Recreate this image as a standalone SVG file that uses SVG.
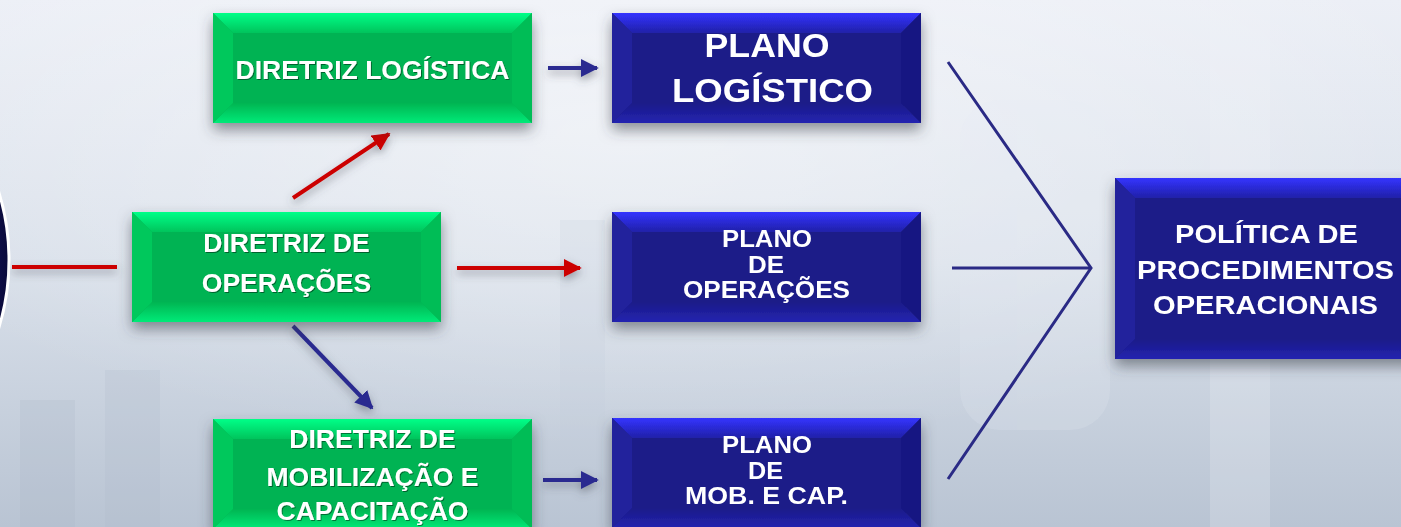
<svg xmlns="http://www.w3.org/2000/svg" width="1401" height="527" viewBox="0 0 1401 527">
<defs>
<linearGradient id="bg" x1="0" y1="0" x2="0" y2="1">
<stop offset="0" stop-color="#eceff6"/>
<stop offset="0.5" stop-color="#d9e0ea"/>
<stop offset="1" stop-color="#b9c4d3"/>
</linearGradient>
<radialGradient id="glow" cx="0.45" cy="0.25" r="0.6">
<stop offset="0" stop-color="#ffffff" stop-opacity="0.45"/>
<stop offset="1" stop-color="#ffffff" stop-opacity="0"/>
</radialGradient>
<radialGradient id="orb" cx="0.5" cy="0.5" r="0.5">
<stop offset="0.8" stop-color="#1a1a70"/>
<stop offset="1" stop-color="#0a0a3a"/>
</radialGradient>
<linearGradient id="gTop" x1="0" y1="0" x2="0" y2="1">
<stop offset="0" stop-color="#00ff88"/>
<stop offset="1" stop-color="#00c45c"/>
</linearGradient>
<linearGradient id="gBot" x1="0" y1="0" x2="0" y2="1">
<stop offset="0" stop-color="#00b552"/>
<stop offset="1" stop-color="#00ea78"/>
</linearGradient>
<linearGradient id="bTop" x1="0" y1="0" x2="0" y2="1">
<stop offset="0" stop-color="#3434ff"/>
<stop offset="1" stop-color="#2020a8"/>
</linearGradient>
<linearGradient id="bBot" x1="0" y1="0" x2="0" y2="1">
<stop offset="0" stop-color="#1a1a88"/>
<stop offset="1" stop-color="#2424b0"/>
</linearGradient>
<filter id="shadow" x="-20%" y="-30%" width="140%" height="170%">
<feDropShadow dx="0" dy="7" stdDeviation="7" flood-color="#3a3f4a" flood-opacity="0.55"/>
</filter>
<filter id="lshadow" x="-20%" y="-100%" width="140%" height="300%">
<feDropShadow dx="0" dy="4" stdDeviation="4" flood-color="#4a4f5a" flood-opacity="0.5"/>
</filter>
<filter id="tshadow" x="-5%" y="-20%" width="110%" height="140%">
<feDropShadow dx="1" dy="1" stdDeviation="0.6" flood-color="#000000" flood-opacity="0.45"/>
</filter>
<marker id="ahRed" viewBox="0 0 10 10" refX="9" refY="5" markerWidth="18" markerHeight="18" markerUnits="userSpaceOnUse" orient="auto">
<path d="M0,0 L10,5 L0,10 z" fill="#cc0000"/>
</marker>
<marker id="ahBlue" viewBox="0 0 10 10" refX="9" refY="5" markerWidth="18" markerHeight="18" markerUnits="userSpaceOnUse" orient="auto">
<path d="M0,0 L10,5 L0,10 z" fill="#2a2a90"/>
</marker>
</defs>
<style>
.gface{fill:#00b352}
.gtop{fill:url(#gTop)}
.gbot{fill:url(#gBot)}
.gside{fill:#00c85c}
.gside2{fill:#00bd56}
.bface{fill:#1b1b88}
.btop{fill:url(#bTop)}
.bbot{fill:url(#bBot)}
.bside{fill:#22229c}
.bside2{fill:#191982}
.lbl{font-family:"Liberation Sans",Arial,sans-serif;font-weight:bold;fill:#ffffff;text-anchor:middle}
.gl{font-size:26.5px}
.red{stroke:#cc0000;stroke-width:4;fill:none}
.blue{stroke:#2a2a90;stroke-width:4;fill:none}
.conv{stroke:#2a2a85;stroke-width:3;fill:none}
</style>

<rect x="0" y="0" width="1401" height="527" fill="url(#bg)"/>
<rect x="0" y="0" width="1401" height="527" fill="url(#glow)"/>
<g opacity="0.2">
<rect x="1210" y="0" width="60" height="527" fill="#f4f6fa"/>
<rect x="20" y="400" width="55" height="127" fill="#a9b4c5"/>
<rect x="105" y="370" width="55" height="157" fill="#aeb9ca"/>
<rect x="560" y="220" width="45" height="307" fill="#c4cddb"/>
<rect x="960" y="100" width="150" height="330" rx="40" fill="#e8edf4"/>
</g>

<g id="orb-node">
<circle cx="-223" cy="260" r="232" fill="url(#orb)" stroke="#ffffff" stroke-width="3"/>
</g>

<g id="connectors">
<g filter="url(#lshadow)">
<line class="red" x1="12" y1="267" x2="117" y2="267"/>
<line class="red" x1="293" y1="198" x2="389" y2="134" marker-end="url(#ahRed)"/>
<line class="red" x1="457" y1="268" x2="580" y2="268" marker-end="url(#ahRed)"/>
<line class="blue" x1="548" y1="68" x2="597" y2="68" marker-end="url(#ahBlue)"/>
<line class="blue" x1="293" y1="326" x2="372" y2="408" marker-end="url(#ahBlue)"/>
<line class="blue" x1="543" y1="480" x2="597" y2="480" marker-end="url(#ahBlue)"/>
</g>
<polyline class="conv" points="948,62 1091,268 948,479"/>
<line class="conv" x1="952" y1="268" x2="1091" y2="268"/>
</g>

<g id="diretriz-logistica" filter="url(#shadow)">
<rect class="gface" x="213" y="13" width="319" height="110"/>
<polygon class="gtop" points="213,13 532,13 512,33 233,33"/>
<polygon class="gbot" points="213,123 532,123 512,103 233,103"/>
<polygon class="gside" points="213,13 233,33 233,103 213,123"/>
<polygon class="gside2" points="532,13 512,33 512,103 532,123"/>
<text class="lbl gl" x="372.5" y="79" filter="url(#tshadow)">DIRETRIZ LOGÍSTICA</text>
</g>

<g id="diretriz-operacoes" filter="url(#shadow)">
<rect class="gface" x="132" y="212" width="309" height="110"/>
<polygon class="gtop" points="132,212 441,212 421,232 152,232"/>
<polygon class="gbot" points="132,322 441,322 421,302 152,302"/>
<polygon class="gside" points="132,212 152,232 152,302 132,322"/>
<polygon class="gside2" points="441,212 421,232 421,302 441,322"/>
<text class="lbl gl" x="286.5" y="252" filter="url(#tshadow)">DIRETRIZ DE</text>
<text class="lbl gl" x="286.5" y="292" filter="url(#tshadow)">OPERAÇÕES</text>
</g>

<g id="diretriz-mobilizacao" filter="url(#shadow)">
<rect class="gface" x="213" y="419" width="319" height="110"/>
<polygon class="gtop" points="213,419 532,419 512,439 233,439"/>
<polygon class="gbot" points="213,529 532,529 512,509 233,509"/>
<polygon class="gside" points="213,419 233,439 233,509 213,529"/>
<polygon class="gside2" points="532,419 512,439 512,509 532,529"/>
<text class="lbl gl" x="372.5" y="448" filter="url(#tshadow)">DIRETRIZ DE</text>
<text class="lbl gl" x="372.5" y="486" filter="url(#tshadow)">MOBILIZAÇÃO E</text>
<text class="lbl gl" x="372.5" y="520" filter="url(#tshadow)">CAPACITAÇÃO</text>
</g>

<g id="plano-logistico" filter="url(#shadow)">
<rect class="bface" x="612" y="13" width="309" height="110"/>
<polygon class="btop" points="612,13 921,13 901,33 632,33"/>
<polygon class="bbot" points="612,123 921,123 901,103 632,103"/>
<polygon class="bside" points="612,13 632,33 632,103 612,123"/>
<polygon class="bside2" points="921,13 901,33 901,103 921,123"/>
<text class="lbl" font-size="33" x="767" y="57" textLength="125" lengthAdjust="spacingAndGlyphs">PLANO</text>
<text class="lbl" font-size="33" x="772.5" y="102" textLength="201" lengthAdjust="spacingAndGlyphs">LOGÍSTICO</text>
</g>

<g id="plano-operacoes" filter="url(#shadow)">
<rect class="bface" x="612" y="212" width="309" height="110"/>
<polygon class="btop" points="612,212 921,212 901,232 632,232"/>
<polygon class="bbot" points="612,322 921,322 901,302 632,302"/>
<polygon class="bside" points="612,212 632,232 632,302 612,322"/>
<polygon class="bside2" points="921,212 901,232 901,302 921,322"/>
<text class="lbl" font-size="24" x="767" y="247" textLength="90" lengthAdjust="spacingAndGlyphs">PLANO</text>
<text class="lbl" font-size="24" x="766" y="273" textLength="36" lengthAdjust="spacingAndGlyphs">DE</text>
<text class="lbl" font-size="24" x="766.5" y="298" textLength="167" lengthAdjust="spacingAndGlyphs">OPERAÇÕES</text>
</g>

<g id="plano-mob-cap" filter="url(#shadow)">
<rect class="bface" x="612" y="418" width="309" height="110"/>
<polygon class="btop" points="612,418 921,418 901,438 632,438"/>
<polygon class="bbot" points="612,528 921,528 901,508 632,508"/>
<polygon class="bside" points="612,418 632,438 632,508 612,528"/>
<polygon class="bside2" points="921,418 901,438 901,508 921,528"/>
<text class="lbl" font-size="24" x="767" y="453" textLength="90" lengthAdjust="spacingAndGlyphs">PLANO</text>
<text class="lbl" font-size="24" x="765.5" y="479" textLength="35" lengthAdjust="spacingAndGlyphs">DE</text>
<text class="lbl" font-size="24" x="766.5" y="504" textLength="163" lengthAdjust="spacingAndGlyphs">MOB. E CAP.</text>
</g>

<g id="politica" filter="url(#shadow)">
<rect class="bface" x="1115" y="178" width="320" height="181"/>
<polygon class="btop" points="1115,178 1435,178 1415,198 1135,198"/>
<polygon class="bbot" points="1115,359 1435,359 1415,339 1135,339"/>
<polygon class="bside" points="1115,178 1135,198 1135,339 1115,359"/>
<text class="lbl" font-size="26" x="1266.5" y="243" textLength="183" lengthAdjust="spacingAndGlyphs">POLÍTICA DE</text>
<text class="lbl" font-size="26" x="1265.5" y="279" textLength="257" lengthAdjust="spacingAndGlyphs">PROCEDIMENTOS</text>
<text class="lbl" font-size="26" x="1265.5" y="314" textLength="225" lengthAdjust="spacingAndGlyphs">OPERACIONAIS</text>
</g>
</svg>
